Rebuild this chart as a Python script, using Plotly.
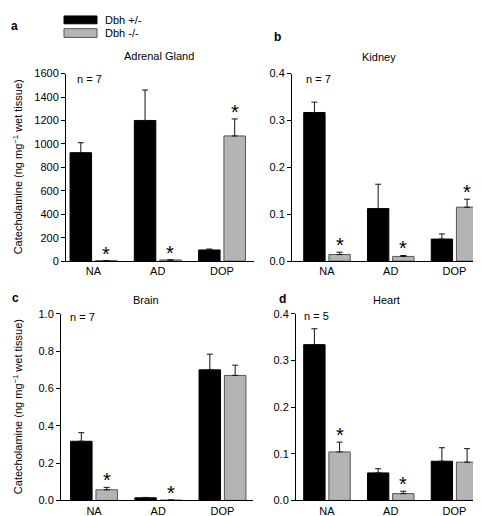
import plotly.graph_objects as go

W, H = 481, 516
categories = ["NA", "AD", "DOP"]
series_names = ["Dbh +/-", "Dbh -/-"]

adrenal_het = [925, 1200, 95]
adrenal_het_err = [85, 260, 8]
adrenal_ko = [4, 10, 1068]
adrenal_ko_err = [0, 0, 145]
adrenal_sig = [True, True, True]

kidney_het = [0.317, 0.112, 0.047]
kidney_het_err = [0.022, 0.052, 0.011]
kidney_ko = [0.014, 0.010, 0.115]
kidney_ko_err = [0.005, 0.002, 0.017]
kidney_sig = [True, True, True]

brain_het = [0.317, 0.014, 0.70]
brain_het_err = [0.046, 0.002, 0.084]
brain_ko = [0.057, 0.002, 0.67]
brain_ko_err = [0.013, 0.0, 0.055]
brain_sig = [True, True, False]

heart_het = [0.334, 0.059, 0.084]
heart_het_err = [0.034, 0.009, 0.029]
heart_ko = [0.104, 0.0146, 0.082]
heart_ko_err = [0.021, 0.005, 0.029]
heart_sig = [True, True, False]

panels = [
    dict(letter="a", title="Adrenal Gland", n="n = 7", het=adrenal_het, het_err=adrenal_het_err,
         ko=adrenal_ko, ko_err=adrenal_ko_err, sig=adrenal_sig,
         yrange=[0, 1600], dtick=200, fmt="d", px=(58, 246), py=(61, 253), xr=[-0.428, 2.498],
         letter_pos=(6, 12), title_pos=(151, 43), n_pos=(81, 67), ytitle=True),
    dict(letter="b", title="Kidney", n="n = 7", het=kidney_het, het_err=kidney_het_err,
         ko=kidney_ko, ko_err=kidney_ko_err, sig=kidney_sig,
         yrange=[0, 0.4], dtick=0.1, fmt=".1f", px=(284, 478), py=(61, 253), xr=[-0.549, 2.494],
         letter_pos=(269, 24), title_pos=(371, 44), n_pos=(310, 67), ytitle=False),
    dict(letter="c", title="Brain", n="n = 7", het=brain_het, het_err=brain_het_err,
         ko=brain_ko, ko_err=brain_ko_err, sig=brain_sig,
         yrange=[0, 1.0], dtick=0.2, fmt=".1f", px=(53, 245), py=(307, 498), xr=[-0.514, 2.475],
         letter_pos=(7, 291), title_pos=(138, 293), n_pos=(74, 310), ytitle=True),
    dict(letter="d", title="Heart", n="n = 5", het=heart_het, het_err=heart_het_err,
         ko=heart_ko, ko_err=heart_ko_err, sig=heart_sig,
         yrange=[0, 0.4], dtick=0.1, fmt=".1f", px=(288, 479), py=(307, 498), xr=[-0.486, 2.51],
         letter_pos=(274, 292), title_pos=(378, 293), n_pos=(308, 309), ytitle=False),
]

FONT = "Liberation Sans, Arial, sans-serif"
BLACK = "#000000"
GRAY = "#b4b4b4"
BW = 0.335
OFF_HET = -0.365
OFF_KO = 0.03


def px2x(p):
    return p / W


def px2y(p):
    return 1 - p / H


fig = go.Figure()
annotations = []
shapes = []
xs = [0, 1, 2]

for i, p in enumerate(panels):
    k = "" if i == 0 else str(i + 1)
    xa, ya = "x" + k, "y" + k
    fig.add_trace(go.Bar(
        x=xs, y=p["het"], name=series_names[0], xaxis=xa, yaxis=ya,
        width=BW, offset=OFF_HET,
        marker=dict(color=BLACK, line=dict(color=BLACK, width=1)),
        error_y=dict(type="data", array=p["het_err"], arrayminus=[0] * 3, symmetric=False,
                     color="#111111", thickness=1, width=3),
        showlegend=False))
    fig.add_trace(go.Bar(
        x=xs, y=p["ko"], name=series_names[1], xaxis=xa, yaxis=ya,
        width=BW, offset=OFF_KO,
        marker=dict(color=GRAY, line=dict(color="#555555", width=1)),
        error_y=dict(type="data", array=p["ko_err"], arrayminus=[0] * 3, symmetric=False,
                     color="#111111", thickness=1, width=3),
        showlegend=False))

    fig.layout["xaxis" + k] = dict(
        domain=[px2x(p["px"][0]), px2x(p["px"][1])], anchor=ya, range=p["xr"],
        tickmode="array", tickvals=xs, ticktext=categories, ticks="",
        showline=True, linecolor="#000000", linewidth=1, showgrid=False, zeroline=False,
        tickfont=dict(family=FONT, size=11, color="#000"), fixedrange=True)
    fig.layout["yaxis" + k] = dict(
        domain=[px2y(p["py"][1]), px2y(p["py"][0])], anchor=xa, range=p["yrange"],
        dtick=p["dtick"], tick0=0, tickformat=p["fmt"], ticks="outside", ticklen=4,
        tickcolor="#000", tickwidth=1,
        showline=True, linecolor="#000000", linewidth=1, showgrid=False, zeroline=False,
        tickfont=dict(family=FONT, size=11, color="#000"), fixedrange=True)

    # significance asterisks
    for j in range(3):
        if p["sig"][j]:
            annotations.append(dict(
                x=xs[j] + OFF_KO + BW / 2, y=p["ko"][j] + p["ko_err"][j], xref=xa, yref=ya,
                text="*", showarrow=False, yanchor="middle", xanchor="center", yshift=7,
                font=dict(family=FONT, size=20, color="#000")))

    lx, ly = p["letter_pos"]
    annotations.append(dict(x=px2x(lx), y=px2y(ly), xref="paper", yref="paper",
                            text="<b>" + p["letter"] + "</b>", showarrow=False,
                            xanchor="center", yanchor="middle",
                            font=dict(family=FONT, size=12, color="#000")))
    tx, ty = p["title_pos"]
    annotations.append(dict(x=px2x(tx), y=px2y(ty), xref="paper", yref="paper",
                            text=p["title"], showarrow=False, xanchor="center", yanchor="middle",
                            font=dict(family=FONT, size=11, color="#000")))
    nx, ny = p["n_pos"]
    annotations.append(dict(x=px2x(nx), y=px2y(ny), xref="paper", yref="paper",
                            text=p["n"], showarrow=False, xanchor="center", yanchor="middle",
                            font=dict(family=FONT, size=11, color="#000")))
    if p["ytitle"]:
        cy = (p["py"][0] + p["py"][1]) / 2
        annotations.append(dict(x=px2x(10), y=px2y(cy), xref="paper", yref="paper",
                                text="Catecholamine (ng mg<sup>−1</sup> wet tissue)",
                                textangle=-90, showarrow=False, xanchor="center", yanchor="middle",
                                font=dict(family=FONT, size=11, color="#000")))

# legend (drawn manually)
leg = [(series_names[0], BLACK, BLACK, 2, 10), (series_names[1], GRAY, "#555555", 15, 24)]
for name, fill, line, y0, y1 in leg:
    shapes.append(dict(type="rect", xref="paper", yref="paper",
                       x0=px2x(56), x1=px2x(89), y0=px2y(y1), y1=px2y(y0),
                       fillcolor=fill, line=dict(color=line, width=1)))
    annotations.append(dict(x=px2x(95), y=px2y((y0 + y1) / 2), xref="paper", yref="paper",
                            text=name, showarrow=False, xanchor="left", yanchor="middle",
                            font=dict(family=FONT, size=11, color="#000")))

fig.update_layout(
    width=W, height=H, margin=dict(l=0, r=0, t=0, b=0),
    paper_bgcolor="white", plot_bgcolor="white",
    barmode="overlay", annotations=annotations, shapes=shapes,
    font=dict(family=FONT, size=11, color="#000"),
)

fig.write_html("out.html")
